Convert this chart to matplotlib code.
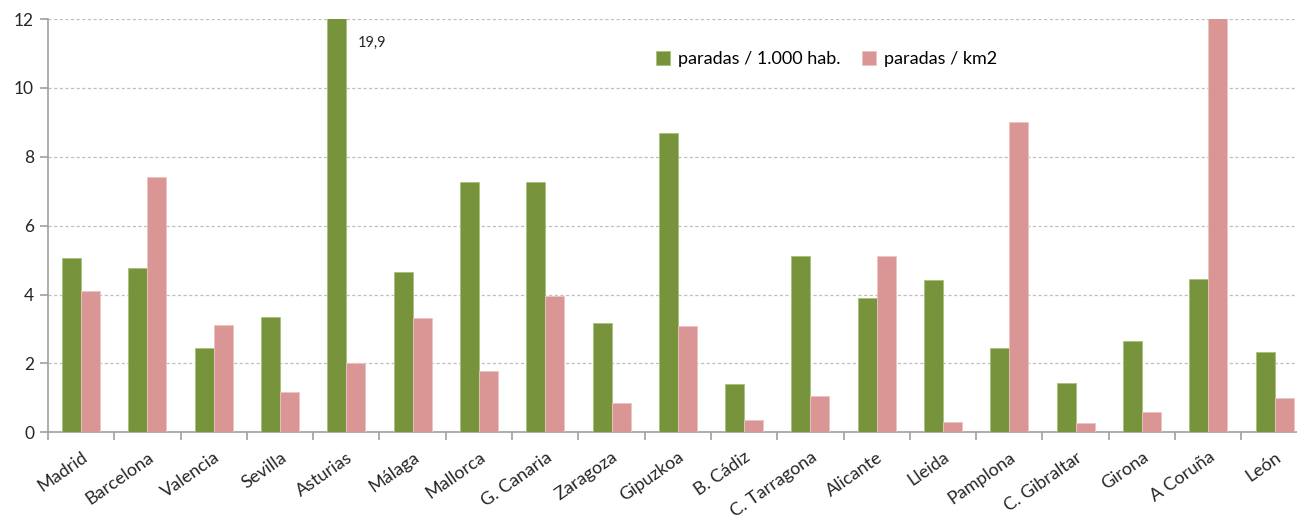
import matplotlib
matplotlib.use("Agg")
import matplotlib.pyplot as plt
import numpy as np

categories = ["Madrid", "Barcelona", "Valencia", "Sevilla", "Asturias", "Málaga",
              "Mallorca", "G. Canaria", "Zaragoza", "Gipuzkoa", "B. Cádiz",
              "C. Tarragona", "Alicante", "Lleida", "Pamplona", "C. Gibraltar",
              "Girona", "A Coruña", "León"]
paradas_hab = [5.05, 4.76, 2.45, 3.34, 19.9, 4.64, 7.27, 7.27, 3.16, 8.69, 1.40,
               5.12, 3.91, 4.42, 2.45, 1.42, 2.65, 4.44, 2.34]
paradas_km2 = [4.09, 7.40, 3.12, 1.16, 2.01, 3.32, 1.79, 3.97, 0.85, 3.08, 0.36,
               1.04, 5.12, 0.29, 9.01, 0.26, 0.60, 13.0, 1.01]
series_labels = ["paradas / 1.000 hab.", "paradas / km2"]
yticks = [0, 2, 4, 6, 8, 10, 12]
note_text = "19,9"

green = "#77933C"
pink = "#D99694"
grid_c = "#BFBFBF"
axis_c = "#A0A0A0"
text_c = "#262626"

plt.rcParams['font.family'] = ['Lato', 'DejaVu Sans']

fig = plt.figure(figsize=(12.97, 5.21), dpi=100)
ax = fig.add_axes([48/1297, 88.7/521, 1259.7/1297, 413.3/521])

x = np.arange(len(categories))
w = 0.287
ax.bar(x - w/2, paradas_hab, width=w, color=green, edgecolor="#A9C07A",
       linewidth=0.6, label=series_labels[0], zorder=3)
ax.bar(x + w/2, paradas_km2, width=w, color=pink, edgecolor="#EBC4C3",
       linewidth=0.6, label=series_labels[1], zorder=3)

ax.set_xlim(-0.5, len(categories) - 0.5)
ax.set_ylim(0, 12)
ax.set_yticks(yticks)
ax.set_yticklabels([str(t) for t in yticks], fontsize=12.5, color=text_c)
ax.yaxis.grid(True, linestyle=(0, (2.5, 2)), color=grid_c, linewidth=0.9, zorder=0)
ax.set_axisbelow(True)

ax.set_xticks(x)
ax.set_xticklabels(categories, rotation=35, ha="right", va="top",
                   rotation_mode="anchor", fontsize=13, color=text_c)
ax.tick_params(axis="x", which="major", length=0, pad=12)
ax.set_xticks(np.arange(-0.5, len(categories), 1), minor=True)
ax.tick_params(axis="x", which="minor", length=6, color=axis_c, width=1.2)
ax.tick_params(axis="y", length=6, color=axis_c, width=1.2, pad=4)

for s in ["top", "right"]:
    ax.spines[s].set_visible(False)
for s in ["left", "bottom"]:
    ax.spines[s].set_color(axis_c)
    ax.spines[s].set_linewidth(1.2)

ax.text(4.17, 11.3, note_text, fontsize=10.5, color=text_c, ha="left", va="center")

leg = ax.legend(loc="upper left", bbox_to_anchor=((649-48)/1259.7, (432.3-44)/413.3),
                ncol=2, frameon=False, fontsize=13, handlelength=0.75,
                handleheight=0.75, handletextpad=0.45, columnspacing=1.2,
                borderaxespad=0)

fig.savefig("out.png", dpi=100)
